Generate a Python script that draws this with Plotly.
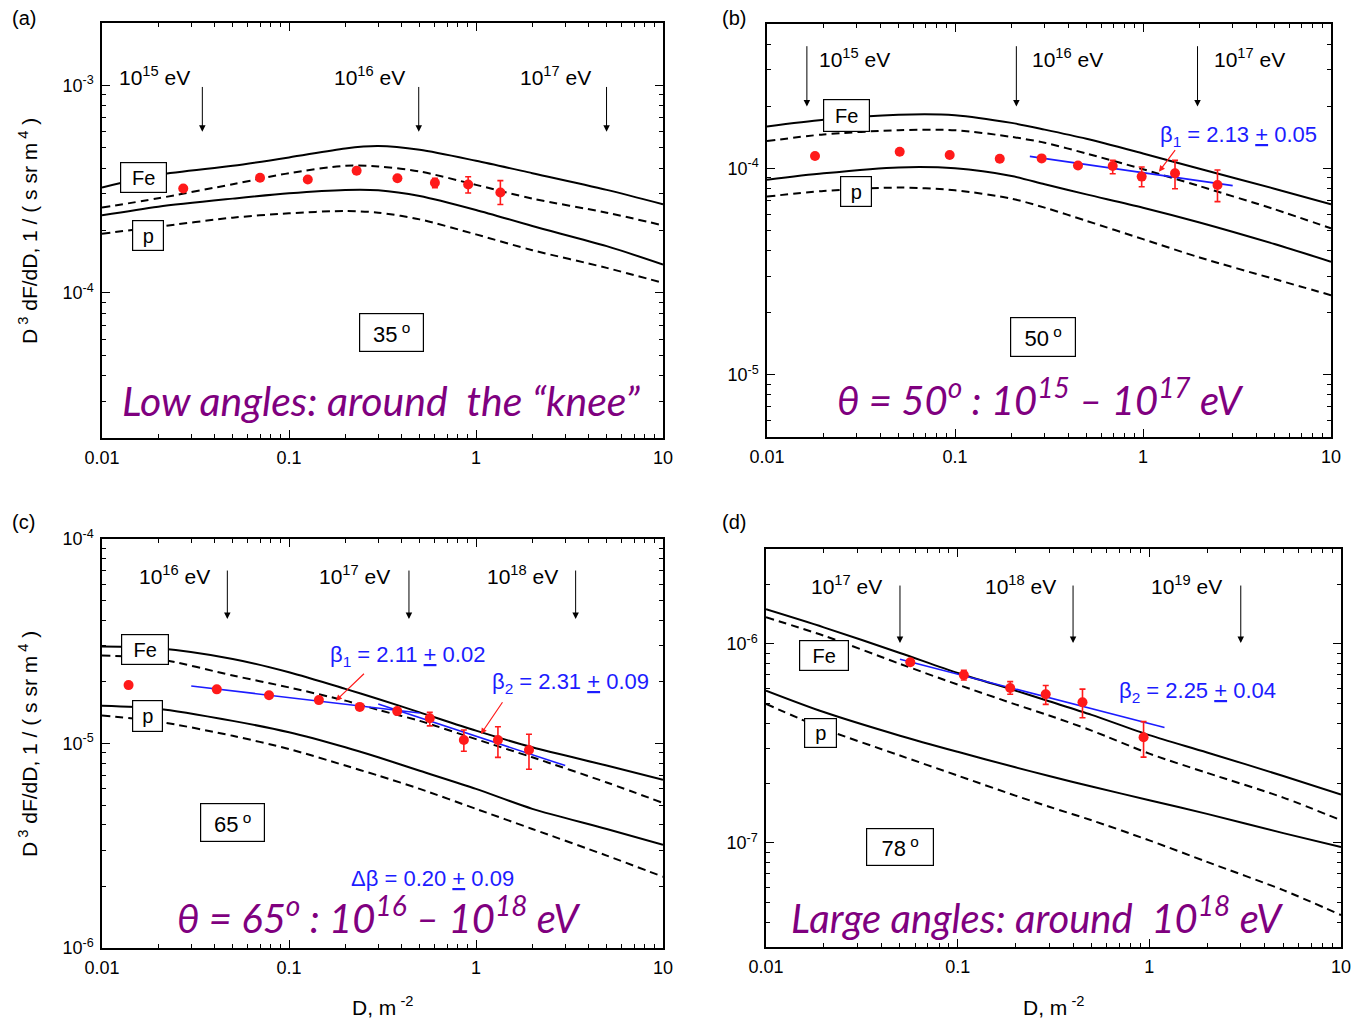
import math
import plotly.graph_objects as go

# ---------------- data ----------------
D_GRID = [0.01, 0.02, 0.05, 0.1, 0.2, 0.3, 0.5, 1, 2, 5, 10]

# (a) 35 deg
A_FE_SOLID = [3.221e-4, 3.710e-4, 4.101e-4, 4.498e-4, 4.973e-4, 5.104e-4, 4.899e-4, 4.336e-4, 3.779e-4, 3.139e-4, 2.676e-4]
A_FE_DASH = [2.578e-4, 2.860e-4, 3.343e-4, 3.779e-4, 4.101e-4, 4.071e-4, 3.850e-4, 3.319e-4, 2.849e-4, 2.438e-4, 2.117e-4]
A_P_SOLID = [2.366e-4, 2.606e-4, 2.849e-4, 3.024e-4, 3.139e-4, 3.127e-4, 2.935e-4, 2.512e-4, 2.101e-4, 1.681e-4, 1.371e-4]
A_P_DASH = [1.929e-4, 2.086e-4, 2.306e-4, 2.420e-4, 2.484e-4, 2.438e-4, 2.263e-4, 1.915e-4, 1.608e-4, 1.321e-4, 1.118e-4]
A_D = [0.0272, 0.070, 0.126, 0.230, 0.380, 0.603, 0.908, 1.35]
A_F = [3.19e-4, 3.59e-4, 3.52e-4, 3.88e-4, 3.57e-4, 3.40e-4, 3.33e-4, 3.05e-4]
A_EP = [0, 0, 0, 0, 0, 0.17e-4, 0.30e-4, 0.43e-4]
A_EM = [0, 0, 0, 0, 0, 0.18e-4, 0.30e-4, 0.38e-4]

# (b) 50 deg
B_FE_SOLID = [1.595e-4, 1.72e-4, 1.82e-4, 1.81e-4, 1.66e-4, 1.54e-4, 1.39e-4, 1.18e-4, 9.96e-5, 7.97e-5, 6.7e-5]
B_FE_DASH = [1.355e-4, 1.46e-4, 1.53e-4, 1.53e-4, 1.42e-4, 1.33e-4, 1.18e-4, 9.9e-5, 8.2e-5, 6.34e-5, 5.12e-5]
B_P_SOLID = [8.81e-5, 9.46e-5, 1.01e-4, 1.0e-4, 9.18e-5, 8.37e-5, 7.48e-5, 6.45e-5, 5.47e-5, 4.3e-5, 3.53e-5]
B_P_DASH = [7.3e-5, 7.77e-5, 8.07e-5, 7.83e-5, 7.13e-5, 6.45e-5, 5.57e-5, 4.54e-5, 3.7e-5, 2.91e-5, 2.43e-5]
B_D = [0.018, 0.0508, 0.0937, 0.173, 0.289, 0.451, 0.690, 0.984, 1.48, 2.49]
B_F = [1.148e-4, 1.204e-4, 1.16e-4, 1.113e-4, 1.117e-4, 1.033e-4, 1.026e-4, 9.12e-5, 9.46e-5, 8.3e-5]
B_EP = [0, 0, 0, 0, 0, 0, 0.67e-5, 1.03e-5, 1.47e-5, 1.52e-5]
B_EM = [0, 0, 0, 0, 0, 0, 0.84e-5, 0.97e-5, 1.49e-5, 1.40e-5]
B_FIT_D = [0.25, 3.0]
B_FIT_F = [1.143e-4, 8.25e-5]

# (c) 65 deg
C_FE_SOLID = [2.98e-5, 2.92e-5, 2.59e-5, 2.23e-5, 1.85e-5, 1.65e-5, 1.42e-5, 1.156e-5, 9.58e-6, 7.8e-6, 6.65e-6]
C_FE_DASH = [2.69e-5, 2.59e-5, 2.15e-5, 1.88e-5, 1.62e-5, 1.46e-5, 1.29e-5, 1.05e-5, 8.56e-6, 6.45e-6, 5.12e-6]
C_P_SOLID = [1.53e-5, 1.48e-5, 1.29e-5, 1.135e-5, 9.58e-6, 8.56e-6, 7.36e-6, 6.0e-6, 4.79e-6, 3.82e-6, 3.2e-6]
C_P_DASH = [1.37e-5, 1.28e-5, 1.09e-5, 9.4e-6, 7.8e-6, 6.97e-6, 6.0e-6, 4.79e-6, 3.82e-6, 2.83e-6, 2.23e-6]
C_D = [0.01387, 0.0411, 0.0782, 0.1445, 0.239, 0.379, 0.566, 0.861, 1.31, 1.92]
C_F = [1.93e-5, 1.84e-5, 1.72e-5, 1.63e-5, 1.51e-5, 1.44e-5, 1.33e-5, 1.04e-5, 1.04e-5, 9.3e-6]
C_EP = [0, 0, 0, 0, 0, 0, 0.9e-6, 1.24e-6, 1.68e-6, 1.79e-6]
C_EM = [0, 0, 0, 0, 0, 0, 1.1e-6, 1.24e-6, 1.85e-6, 1.82e-6]
C_FIT1_D = [0.030, 0.50]
C_FIT1_F = [1.91e-5, 1.41e-5]
C_FIT2_D = [0.30, 3.0]
C_FIT2_F = [1.56e-5, 7.8e-6]

# (d) 78 deg
D_FE_SOLID = [1.493e-6, 1.212e-6, 9.01e-7, 7.15e-7, 5.83e-7, 5.15e-7, 4.40e-7, 3.48e-7, 2.85e-7, 2.17e-7, 1.75e-7]
D_FE_DASH = [1.361e-6, 1.101e-6, 7.94e-7, 6.25e-7, 4.97e-7, 4.37e-7, 3.67e-7, 2.81e-7, 2.25e-7, 1.69e-7, 1.30e-7]
D_P_SOLID = [5.83e-7, 4.55e-7, 3.46e-7, 2.87e-7, 2.40e-7, 2.17e-7, 1.92e-7, 1.64e-7, 1.40e-7, 1.12e-7, 9.53e-8]
D_P_DASH = [5.0e-7, 3.75e-7, 2.75e-7, 2.18e-7, 1.73e-7, 1.52e-7, 1.3e-7, 1.03e-7, 8.03e-8, 5.79e-8, 4.34e-8]
D_D = [0.0566, 0.1077, 0.188, 0.288, 0.448, 0.933]
D_F = [8.09e-7, 6.98e-7, 6.01e-7, 5.59e-7, 5.09e-7, 3.40e-7]
D_EP = [0, 0.40e-7, 0.46e-7, 0.59e-7, 0.84e-7, 0.67e-7]
D_EM = [0, 0.39e-7, 0.42e-7, 0.62e-7, 0.83e-7, 0.70e-7]
D_FIT_D = [0.05, 1.2]
D_FIT_F = [8.38e-7, 3.80e-7]

# primary energies marked by arrows
A_E_LABELS = ["10<sup>15</sup> eV", "10<sup>16</sup> eV", "10<sup>17</sup> eV"]
A_E_D = [0.0344, 0.494, 4.99]
B_E_LABELS = ["10<sup>15</sup> eV", "10<sup>16</sup> eV", "10<sup>17</sup> eV"]
B_E_D = [0.0163, 0.212, 1.95]
C_E_LABELS = ["10<sup>16</sup> eV", "10<sup>17</sup> eV", "10<sup>18</sup> eV"]
C_E_D = [0.0468, 0.438, 3.41]
D_E_LABELS = ["10<sup>17</sup> eV", "10<sup>18</sup> eV", "10<sup>19</sup> eV"]
D_E_D = [0.05, 0.40, 3.0]

X_TICKS = [0.01, 0.1, 1, 10]
X_TICKTEXT = ["0.01", "0.1", "1", "10"]

# ---------------- styling ----------------
W, H = 1355, 1019
lg = math.log10
AXFONT = "Liberation Sans, Arial, sans-serif"
PURPLE = "#7f007f"
BLUE = "#1c1cff"
RED = "#ff1a1a"

# plot frames in pixels: (left, right, top, bottom)
FRAMES = {
    "a": (102, 663, 23, 438),
    "b": (767, 1331, 24, 437),
    "c": (102, 663, 539, 948),
    "d": (766, 1341, 549, 947),
}
YRANGES = {
    "a": [lg(2e-5), lg(2e-3)],
    "b": [lg(5e-6), lg(5e-4)],
    "c": [-6, -4],
    "d": [lg(3e-8), lg(3e-6)],
}
AXID = {"a": "", "b": "2", "c": "3", "d": "4"}


def minor_vals(e0, e1):
    return [k * 10 ** e for e in range(e0, e1) for k in range(2, 10)]


fig = go.Figure()


def add_curves(p, fe_s, fe_d, p_s, p_d):
    xr, yr = "x" + AXID[p], "y" + AXID[p]
    for ys, dash in ((fe_s, "solid"), (fe_d, "8px,5px"), (p_s, "solid"), (p_d, "8px,5px")):
        fig.add_trace(go.Scatter(
            x=D_GRID, y=ys, mode="lines", xaxis=xr, yaxis=yr,
            line=dict(color="black", width=2, dash=dash, shape="spline", smoothing=0.8),
            showlegend=False, hoverinfo="skip"))


def add_points(p, d, f, ep, em):
    xr, yr = "x" + AXID[p], "y" + AXID[p]
    fig.add_trace(go.Scatter(
        x=d, y=f, mode="markers", xaxis=xr, yaxis=yr,
        marker=dict(color=RED, size=10, line=dict(width=0)),
        error_y=dict(type="data", symmetric=False, array=ep, arrayminus=em,
                     color=RED, thickness=1.6, width=3),
        showlegend=False))


def add_fit(p, d, f):
    xr, yr = "x" + AXID[p], "y" + AXID[p]
    fig.add_trace(go.Scatter(
        x=d, y=f, mode="lines", xaxis=xr, yaxis=yr,
        line=dict(color=BLUE, width=1.6), showlegend=False, hoverinfo="skip"))


add_curves("a", A_FE_SOLID, A_FE_DASH, A_P_SOLID, A_P_DASH)
add_curves("b", B_FE_SOLID, B_FE_DASH, B_P_SOLID, B_P_DASH)
add_curves("c", C_FE_SOLID, C_FE_DASH, C_P_SOLID, C_P_DASH)
add_curves("d", D_FE_SOLID, D_FE_DASH, D_P_SOLID, D_P_DASH)
add_fit("b", B_FIT_D, B_FIT_F)
add_fit("c", C_FIT1_D, C_FIT1_F)
add_fit("c", C_FIT2_D, C_FIT2_F)
add_fit("d", D_FIT_D, D_FIT_F)
add_points("a", A_D, A_F, A_EP, A_EM)
add_points("b", B_D, B_F, B_EP, B_EM)
add_points("c", C_D, C_F, C_EP, C_EM)
add_points("d", D_D, D_F, D_EP, D_EM)

layout = dict(
    width=W, height=H, autosize=False,
    margin=dict(l=0, r=0, t=0, b=0, autoexpand=False),
    paper_bgcolor="white", plot_bgcolor="white",
    showlegend=False,
)

for p, (l, r, t, b) in FRAMES.items():
    k = AXID[p]
    yr = YRANGES[p]
    e0, e1 = math.floor(yr[0]), math.ceil(yr[1])
    yt = [10 ** e for e in range(e0, e1 + 1) if yr[0] - 1e-9 <= e <= yr[1] + 1e-9]
    common = dict(
        type="log", showline=True, linecolor="black", linewidth=1.5,
        mirror="allticks", ticks="inside", ticklen=8, tickwidth=1.2, tickcolor="black",
        showgrid=False, zeroline=False, tickmode="array", automargin=False,
        ticklabelstandoff=3,
        tickfont=dict(family=AXFONT, size=18, color="black"),
    )
    layout["xaxis" + k] = dict(
        common, domain=[l / W, r / W], range=[-2, 1], anchor="y" + k,
        tickvals=X_TICKS, ticktext=X_TICKTEXT,
        minor=dict(tickmode="array", tickvals=minor_vals(-2, 1), ticks="inside",
                   ticklen=4, tickwidth=1, tickcolor="black", showgrid=False),
    )
    layout["yaxis" + k] = dict(
        common, domain=[1 - b / H, 1 - t / H], range=yr, anchor="x" + k,
        tickvals=yt, ticktext=["10<sup>%d</sup>" % round(lg(v)) for v in yt],
        minor=dict(tickmode="array", tickvals=minor_vals(e0, e1), ticks="inside",
                   ticklen=4, tickwidth=1, tickcolor="black", showgrid=False),
    )

ann = []


def refs(p):
    return "x" + AXID[p], "y" + AXID[p]


def box(p, text, xl, yl, w, h, size):
    xr, yr = refs(p)
    ann.append(dict(x=xl, y=yl, xref=xr, yref=yr, text=text, showarrow=False,
                    font=dict(family=AXFONT, size=size, color="black"),
                    bordercolor="black", borderwidth=1.2, bgcolor="white",
                    width=w, height=h, borderpad=0, align="center",
                    xanchor="center", yanchor="middle"))


def text(p, s, xl, yl, size, color, family=AXFONT, xanchor="center"):
    xr, yr = refs(p)
    ann.append(dict(x=xl, y=yl, xref=xr, yref=yr, text=s, showarrow=False,
                    font=dict(family=family, size=size, color=color),
                    xanchor=xanchor, yanchor="middle"))


def arrow(p, d, f_tail, f_head, color="black", d_tail=None, width=1.0, size=1.3):
    xr, yr = refs(p)
    ann.append(dict(x=lg(d), y=lg(f_head), ax=lg(d if d_tail is None else d_tail), ay=lg(f_tail),
                    xref=xr, yref=yr, axref=xr, ayref=yr, text="", showarrow=True,
                    arrowhead=2, arrowsize=size, arrowwidth=width, arrowcolor=color))


# energy arrows and their labels
for d in A_E_D:
    arrow("a", d, 1.0e-3, 5.98e-4)
for s, xl in zip(A_E_LABELS, [-1.517, -0.369, 0.624]):
    text("a", s, xl, -2.955, 21, "black", xanchor="right")
for d in B_E_D:
    arrow("b", d, 3.97e-4, 1.99e-4)
for s, xl in zip(B_E_LABELS, [-1.732, -0.603, 0.367]):
    text("b", s, xl, -3.465, 21, "black", xanchor="left")
for d in C_E_D:
    arrow("c", d, 7.13e-5, 4.06e-5)
for s, xl in zip(C_E_LABELS, [-1.412, -0.447, 0.449]):
    text("c", s, xl, -4.178, 21, "black", xanchor="right")
for d in D_E_D:
    arrow("d", d, 2.0e-6, 1.01e-6)
for s, xl in zip(D_E_LABELS, [-1.382, -0.478, 0.388]):
    text("d", s, xl, -5.703, 21, "black", xanchor="right")

# composition boxes and zenith-angle boxes
box("a", "Fe", -1.777, -3.445, 45, 29, 20)
box("a", "p", -1.756, -3.723, 30, 29, 20)
box("a", "35<sup> o</sup>", -0.450, -4.192, 63, 37, 22)
box("b", "Fe", -1.576, -3.746, 45, 31, 20)
box("b", "p", -1.525, -4.113, 30, 29, 20)
box("b", "50<sup> o</sup>", -0.534, -4.815, 64, 38, 22)
box("c", "Fe", -1.770, -4.540, 46, 29, 20)
box("c", "p", -1.758, -4.867, 29, 30, 20)
box("c", "65<sup> o</sup>", -1.300, -5.385, 63, 37, 22)
box("d", "Fe", -1.696, -6.060, 48, 29, 20)
box("d", "p", -1.714, -6.446, 31, 28, 20)
box("d", "78<sup> o</sup>", -1.303, -7.020, 66, 36, 22)

# fitted slopes
text("b", "β<sub>1</sub> = 2.13 <u>+</u> 0.05", 0.080, -3.844, 22, BLUE, xanchor="left")
arrow("b", 1.216, 1.245e-4, 9.64e-5, color=RED, d_tail=1.503, width=1.2, size=1)
text("c", "β<sub>1</sub> = 2.11 <u>+</u> 0.02", -0.791, -4.570, 22, BLUE, xanchor="left")
arrow("c", 0.178, 2.23e-5, 1.618e-5, color=RED, d_tail=0.2564, width=1.2, size=1)
text("c", "β<sub>2</sub> = 2.31 <u>+</u> 0.09", 0.077, -4.706, 22, BLUE, xanchor="left")
arrow("c", 1.062, 1.618e-5, 1.112e-5, color=RED, d_tail=1.403, width=1.2, size=1)
text("c", "Δβ = 0.20 <u>+</u> 0.09", -0.230, -5.662, 22, BLUE)
text("d", "β<sub>2</sub> = 2.25 <u>+</u> 0.04", -0.167, -6.239, 22, BLUE, xanchor="left")

# headline captions inside each panel
CAPFONT = "Lato, Open Sans, sans-serif"
text("a", "<i>Low angles: around\u00a0 the “knee”</i>", -0.508, -4.516, 41, PURPLE, family=CAPFONT)
text("b", "<i>θ = 50<sup>o</sup> : 10<sup>15</sup> – 10<sup>17</sup> eV</i>", -0.544, -5.108, 40, PURPLE, family=CAPFONT)
text("c", "<i>θ = 65<sup>o</sup> : 10<sup>16</sup> – 10<sup>18</sup> eV</i>", -0.519, -5.840, 40, PURPLE, family=CAPFONT)
text("d", "<i>Large angles: around\u00a0 10<sup>18</sup> eV</i>", -0.581, -7.363, 40, PURPLE, family=CAPFONT)

# panel letters and axis titles (paper coordinates)
for s, px, py in (("(a)", 10, 18), ("(b)", 720, 18), ("(c)", 10, 522), ("(d)", 720, 522)):
    ann.append(dict(x=px / W, y=1 - py / H, xref="paper", yref="paper", text=s, showarrow=False,
                    font=dict(family=AXFONT, size=20, color="black"),
                    xanchor="left", yanchor="middle"))
YTITLE = "D<sup> 3</sup> dF/dD, 1 / ( s sr m<sup> 4</sup> )"
for py in (231, 744):
    ann.append(dict(x=28 / W, y=1 - py / H, xref="paper", yref="paper", text=YTITLE,
                    showarrow=False, textangle=-90,
                    font=dict(family=AXFONT, size=21, color="black"),
                    xanchor="center", yanchor="middle"))
for px in (382, 1053):
    ann.append(dict(x=px / W, y=1 - 1006 / H, xref="paper", yref="paper",
                    text="D, m<sup> -2</sup>", showarrow=False,
                    font=dict(family=AXFONT, size=21, color="black"),
                    xanchor="center", yanchor="middle"))

layout["annotations"] = ann
fig.update_layout(**layout)
fig.write_html("out.html")
